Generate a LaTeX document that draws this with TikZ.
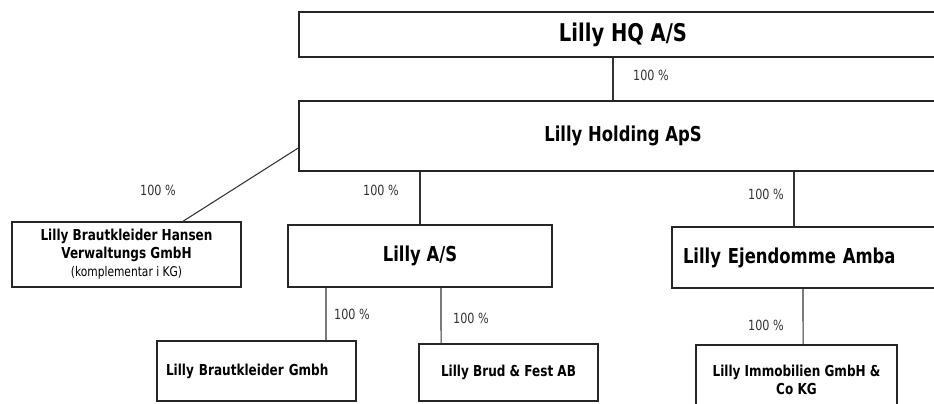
\documentclass[tikz,border=0pt]{standalone}
\usepackage{fontspec}
\setmainfont{DejaVu Sans}[FakeStretch=0.8]
\usetikzlibrary{positioning}

\begin{document}
\begin{tikzpicture}[x=0.75pt, y=-0.75pt,
        entity/.style={draw=black!85, line width=1.1pt, fill=white, align=center, inner sep=0pt, text=black},
        topEntity/.style={entity, font=\fontsize{18.3}{22}\selectfont\bfseries},
        bigEntity/.style={entity, font=\fontsize{15.4}{18}\selectfont\bfseries},
        smallEntity/.style={entity, font=\fontsize{11.3}{13.5}\selectfont\bfseries},
        share/.style={draw=black!80, line width=0.8pt},
        pct/.style={font=\fontsize{10.5}{12}\selectfont, text=black!80, inner sep=0pt}
      ]
      \useasboundingbox (0,0) rectangle (934,403);
      \clip (0,0) rectangle (934,403);
      % ownership levels
      \node[topEntity, minimum width=486pt, minimum height=33.75pt] (hq) at (623,34.5) {Lilly HQ A/S};
      \node[bigEntity, minimum width=486pt, minimum height=52.5pt] (holding) at (623,136) {Lilly Holding ApS};
      \node[smallEntity, minimum width=171.75pt, minimum height=48.75pt] (hansen) at (126.5,254.5) {Lilly Brautkleider Hansen\\Verwaltungs GmbH\\{\mdseries\fontsize{10}{12.5}\selectfont (komplementar i KG)}};
      \node[bigEntity, minimum width=198pt, minimum height=46.5pt] (las) at (420,256) {Lilly A/S};
      \node[bigEntity, text width=184.5pt, inner xsep=8.25pt, align=left, minimum height=45.75pt] (ejend) at (806,257.5) {Lilly Ejendomme Amba};
      \node[smallEntity, text width=135.75pt, inner xsep=6.75pt, align=left, minimum height=45pt] (brautg) at (256.5,371) {Lilly Brautkleider Gmbh};
      \node[smallEntity, minimum width=134.25pt, minimum height=42.75pt] (brud) at (508.5,372.5) {Lilly Brud \& Fest AB};
      \node[smallEntity, minimum width=150.75pt, minimum height=52.5pt] (immob) at (796.5,380) {Lilly Immobilien GmbH \&\\Co KG};
      % shares
      \node[pct] (pHolding) at (651,75) {100 \%};
      \node[pct] (pHansen) at (158,190) {100 \%};
      \node[pct] (pAS) at (381,190) {100 \%};
      \node[pct] (pEjend) at (766,194) {100 \%};
      \node[pct] (pBraut) at (352,314) {100 \%};
      \node[pct] (pBrud) at (471,318) {100 \%};
      \node[pct] (pImmob) at (766,325) {100 \%};
      \draw[share] ([xshift=-7.5pt]hq.south) -- ([xshift=-7.5pt]holding.north);
      \draw[share] ([yshift=-9pt]holding.west) -- ([xshift=42.4pt]hansen.north);
      \draw[share] ([xshift=-152.25pt]holding.south) -- (las.north);
      \draw[share] ([xshift=128.25pt]holding.south) -- ([xshift=-9pt]ejend.north);
      \draw[share] ([xshift=-70.5pt]las.south) -- ([xshift=52.1pt]brautg.north);
      \draw[share] ([xshift=15.75pt]las.south) -- ([xshift=-50.6pt]brud.north);
      \draw[share] ([xshift=-2.25pt]ejend.south) -- ([xshift=4.9pt]immob.north);
    \end{tikzpicture}
\end{document}
